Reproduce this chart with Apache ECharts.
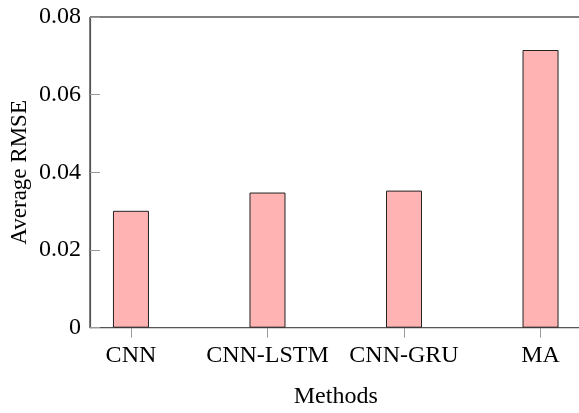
<!DOCTYPE html>
<html>
<head>
<meta charset="utf-8">
<script src="https://cdn.jsdelivr.net/npm/echarts@6/dist/echarts.min.js"></script>
<style>
  html, body { margin: 0; padding: 0; background: #fff; }
  #chart { width: 579px; height: 413px; }
</style>
</head>
<body>
<div id="chart"></div>
<script>
// Average RMSE per forecasting method
const methods = ['CNN', 'CNN-LSTM', 'CNN-GRU', 'MA'];
const avgRmse = [0.0301, 0.0348, 0.0353, 0.0715];
const yTicks = [0, 0.02, 0.04, 0.06, 0.08];

const FONT = '"Liberation Serif", "Times New Roman", serif';
const positions = methods.map((_, i) => i);

const chart = echarts.init(document.getElementById('chart'), null, { renderer: 'canvas' });

chart.setOption({
  backgroundColor: '#fff',
  animation: false,
  grid: {
    left: 90,
    top: 17,
    width: 491.5,
    height: 310.7,
    outerBoundsMode: 'none',
    containLabel: false,
    show: true,
    borderColor: '#000',
    borderWidth: 1,
    backgroundColor: 'transparent'
  },
  xAxis: {
    type: 'value',
    min: -0.3,
    max: 3.3,
    name: 'Methods',
    nameLocation: 'middle',
    nameGap: 57,
    nameMoveOverlap: false,
    nameTextStyle: { fontFamily: FONT, fontSize: 24, color: '#000' },
    axisLine: { show: true, onZero: false, lineStyle: { color: '#555', width: 1.2 } },
    axisTick: {
      show: true, inside: false, length: 10,
      customValues: positions,
      lineStyle: { color: '#999', width: 1 }
    },
    axisLabel: {
      show: true,
      customValues: positions,
      margin: 16,
      fontFamily: FONT, fontSize: 24, color: '#000',
      formatter: v => methods[Math.round(v)] ?? ''
    },
    splitLine: { show: false }
  },
  yAxis: {
    type: 'value',
    min: yTicks[0],
    max: yTicks[yTicks.length - 1],
    interval: 0.02,
    name: 'Average RMSE',
    nameLocation: 'middle',
    nameGap: 59,
    nameMoveOverlap: false,
    nameTextStyle: { fontFamily: FONT, fontSize: 23, color: '#000' },
    axisLine: { show: true, onZero: false, lineStyle: { color: '#555', width: 1.2 } },
    axisTick: { show: true, inside: true, length: 10, lineStyle: { color: '#999', width: 1 } },
    axisLabel: {
      margin: 9,
      fontFamily: FONT, fontSize: 24, color: '#000',
      formatter: v => (v === 0 ? '0' : v.toFixed(2))
    },
    splitLine: { show: false }
  },
  series: [{
    type: 'bar',
    barWidth: 36,
    data: methods.map((_, i) => [positions[i], avgRmse[i]]),
    itemStyle: { color: '#ffb3b3', borderColor: '#222', borderWidth: 1 }
  }]
});
</script>
</body>
</html>
